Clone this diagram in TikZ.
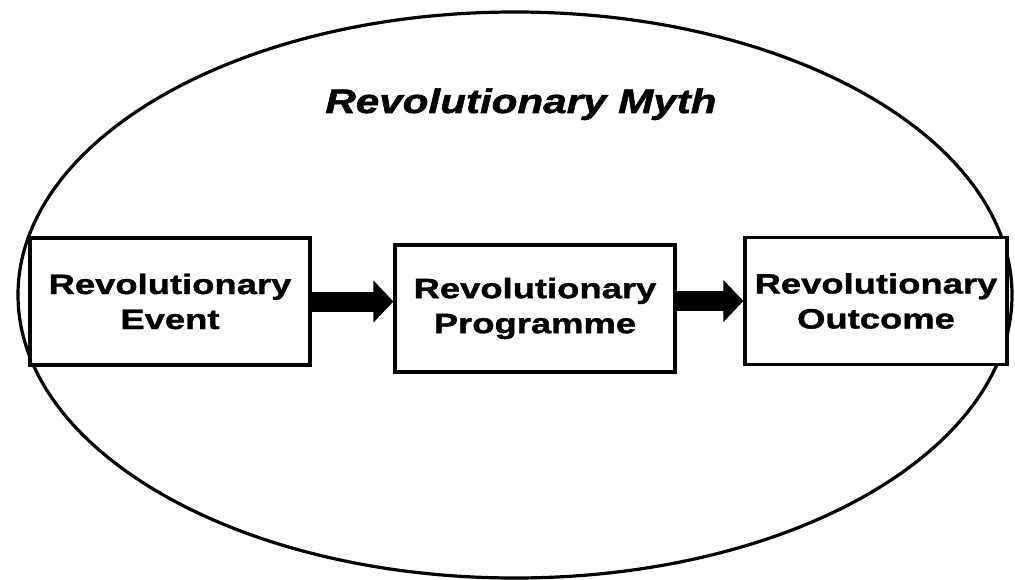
\documentclass[tikz,border=0pt]{standalone}
\usepackage{fontspec}
\usetikzlibrary{arrows.meta}
\newfontfamily\boxfont{Liberation Sans}[FakeStretch=1.3,FakeBold=1.3]
\newfontfamily\titlefont{Liberation Sans}[FakeStretch=1.24,FakeBold=1.5]
\begin{document}
\begin{tikzpicture}[x=1pt,y=-1pt,
  stagebox/.style={draw=black, line width=3.2pt, fill=white, rectangle,
    minimum width=#1, minimum height=127pt, inner sep=0pt, align=center,
    font=\boxfont\bfseries\fontsize{28}{35}\selectfont},
  fatarrow/.style={line width=20pt, -{Triangle[length=20pt,width=41pt]}}]
\useasboundingbox (0,0) rectangle (1015,580);
\fill[white] (0,0) rectangle (1015,580);
\draw[line width=3.2pt] (515,295) ellipse [x radius=497, y radius=283];
\node[font=\titlefont\bfseries\itshape\fontsize{34}{40}\selectfont, anchor=base] (title) at (521,113) {Revolutionary Myth};
\node[stagebox=280pt] (b1) at (170,301.5) {Revolutionary\\Event};
\node[stagebox=280pt] (b2) at (535,308.5) {Revolutionary\\Programme};
\node[stagebox=262pt] (b3) at (876,301) {Revolutionary\\Outcome};
\draw[fatarrow] (b1.east) -- (b1.east -| b2.west);
\draw[fatarrow] (b2.east |- b3.west) -- (b3.west);
\end{tikzpicture}
\end{document}
